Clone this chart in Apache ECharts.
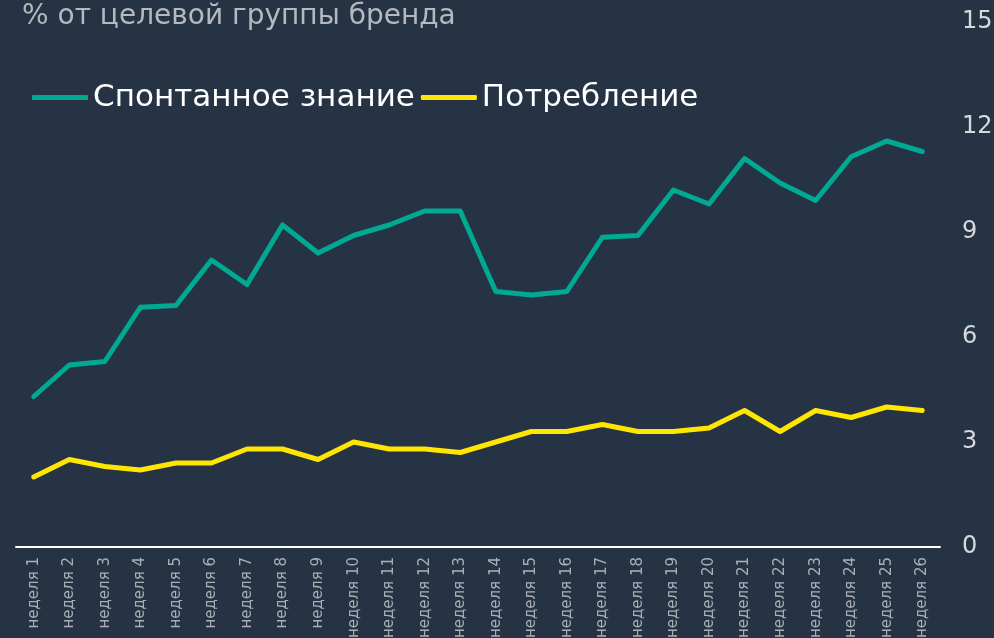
<!DOCTYPE html>
<html>
<head>
<meta charset="utf-8">
<script src="https://cdn.jsdelivr.net/npm/echarts@6/dist/echarts.min.js"></script>
<style>
html,body{margin:0;padding:0;background:#253344;}
#c{width:994px;height:638px;}
</style>
</head>
<body>
<div id="c"></div>
<script>
const categories = ['неделя 1','неделя 2','неделя 3','неделя 4','неделя 5','неделя 6','неделя 7','неделя 8','неделя 9','неделя 10','неделя 11','неделя 12','неделя 13','неделя 14','неделя 15','неделя 16','неделя 17','неделя 18','неделя 19','неделя 20','неделя 21','неделя 22','неделя 23','неделя 24','неделя 25','неделя 26'];
const awareness = [4.3,5.2,5.3,6.85,6.9,8.2,7.5,9.2,8.4,8.9,9.2,9.6,9.6,7.3,7.2,7.3,8.85,8.9,10.2,9.8,11.1,10.4,9.9,11.15,11.6,11.3];
const consumption = [2.0,2.5,2.3,2.2,2.4,2.4,2.8,2.8,2.5,3.0,2.8,2.8,2.7,3.0,3.3,3.3,3.5,3.3,3.3,3.4,3.9,3.3,3.9,3.7,4.0,3.9];
const seriesNames = ['Спонтанное знание','Потребление'];
const titleText = '% от целевой группы бренда';

const font = '"DejaVu Sans", sans-serif';
const chart = echarts.init(document.getElementById('c'));
chart.setOption({
  backgroundColor: '#253344',
  animation: false,
  title: {
    text: titleText, left: 17, top: -2,
    textStyle: {color: '#b4b9bf', fontSize: 28, fontWeight: 'normal', fontFamily: font}
  },
  legend: {
    left: 27, top: 77, icon: 'roundRect',
    itemWidth: 56, itemHeight: 5, itemGap: 6,
    textStyle: {color: '#ffffff', fontSize: 31, fontFamily: font},
    data: seriesNames
  },
  grid: {left: 16, right: 54, top: 22, bottom: 91, containLabel: false, outerBoundsMode: 'none'},
  xAxis: {
    type: 'category', data: categories, boundaryGap: true,
    axisLine: {show: true, lineStyle: {color: '#ffffff', width: 2}},
    axisTick: {show: false},
    axisLabel: {rotate: 90, color: '#a9afb6', fontSize: 15, fontFamily: font, margin: 10, interval: 0}
  },
  yAxis: {
    type: 'value', position: 'right', min: 0, max: 15, interval: 3,
    splitLine: {show: false},
    axisLine: {show: false}, axisTick: {show: false},
    axisLabel: {color: '#d6d9dc', fontSize: 24, fontFamily: font, margin: 22, align: 'left', padding: [6, 0, 0, 0]}
  },
  series: [
    {name: seriesNames[0], type: 'line', data: awareness, showSymbol: false, symbol: 'none',
     lineStyle: {color: '#00a992', width: 5, cap: 'round', join: 'round'}, itemStyle: {color: '#00a992'}},
    {name: seriesNames[1], type: 'line', data: consumption, showSymbol: false, symbol: 'none',
     lineStyle: {color: '#ffe600', width: 5, cap: 'round', join: 'round'}, itemStyle: {color: '#ffe600'}}
  ]
});
</script>
</body>
</html>
